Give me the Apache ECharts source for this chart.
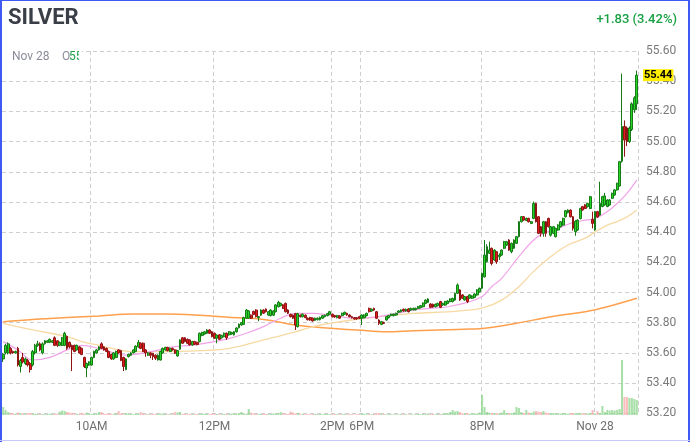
<!DOCTYPE html>
<html>
<head>
<meta charset="utf-8">
<script src="https://cdn.jsdelivr.net/npm/echarts@6/dist/echarts.min.js"></script>
<style>
html,body{margin:0;padding:0;background:#fff;}
#chart{width:690px;height:442px;}
</style>
</head>
<body>
<div id="chart"></div>
<script>
// [open, close, low, high]
const candles = [
[53.56,53.59,53.54,53.60],[53.60,53.65,53.59,53.66],[53.60,53.66,53.59,53.67],[53.63,53.60,53.59,53.64],[53.61,53.60,53.595,53.615],
[53.60,53.61,53.595,53.615],[53.63,53.52,53.51,53.64],[53.51,53.55,53.47,53.56],[53.57,53.54,53.53,53.60],[53.53,53.56,53.52,53.57],
[53.55,53.52,53.51,53.56],[53.53,53.49,53.47,53.54],[53.52,53.61,53.51,53.62],[53.60,53.65,53.59,53.66],[53.65,53.66,53.64,53.68],
[53.66,53.62,53.61,53.67],[53.60,53.66,53.59,53.67],[53.66,53.68,53.655,53.685],[53.67,53.68,53.665,53.685],[53.67,53.69,53.665,53.695],
[53.67,53.68,53.665,53.685],[53.70,53.65,53.645,53.71],[53.68,53.65,53.64,53.685],[53.65,53.67,53.645,53.675],[53.65,53.70,53.645,53.705],
[53.65,53.73,53.645,53.74],[53.71,53.63,53.62,53.715],[53.67,53.64,53.63,53.675],[53.65,53.62,53.48,53.655],[53.65,53.61,53.605,53.655],
[53.62,53.65,53.615,53.655],[53.64,53.60,53.595,53.645],[53.63,53.59,53.585,53.635],[53.57,53.51,53.50,53.575],[53.50,53.53,53.44,53.535],
[53.52,53.54,53.515,53.545],[53.52,53.57,53.515,53.575],[53.57,53.61,53.565,53.615],[53.60,53.62,53.595,53.625],[53.62,53.64,53.615,53.645],
[53.66,53.63,53.625,53.67],[53.64,53.62,53.615,53.645],[53.63,53.61,53.605,53.635],[53.61,53.57,53.565,53.615],[53.59,53.56,53.555,53.595],
[53.56,53.60,53.555,53.605],[53.57,53.61,53.565,53.615],
[53.620,53.600,53.595,53.625],[53.615,53.550,53.545,53.620],[53.570,53.510,53.480,53.575],[53.490,53.560,53.485,53.565],[53.575,53.590,53.570,53.595],
[53.585,53.600,53.580,53.605],[53.600,53.620,53.595,53.625],[53.610,53.645,53.605,53.650],[53.640,53.670,53.635,53.686],[53.664,53.630,53.625,53.670],
[53.664,53.610,53.605,53.670],[53.620,53.600,53.575,53.625],[53.585,53.600,53.580,53.605],[53.600,53.585,53.565,53.605],[53.598,53.575,53.553,53.600],
[53.585,53.565,53.553,53.590],[53.553,53.585,53.550,53.590],[53.553,53.610,53.550,53.615],[53.600,53.630,53.595,53.635],[53.620,53.637,53.615,53.640],
[53.637,53.615,53.610,53.640],[53.610,53.630,53.605,53.635],[53.630,53.620,53.615,53.635],[53.620,53.598,53.593,53.625],[53.580,53.615,53.575,53.620],
[53.625,53.686,53.620,53.690],[53.700,53.664,53.660,53.705],[53.700,53.675,53.670,53.705],[53.690,53.664,53.660,53.695],[53.686,53.653,53.648,53.690],
[53.653,53.675,53.648,53.680],[53.675,53.657,53.652,53.680],[53.670,53.655,53.650,53.675],[53.675,53.730,53.670,53.735],[53.716,53.735,53.710,53.740],
[53.725,53.740,53.720,53.745],[53.730,53.752,53.725,53.757],[53.752,53.730,53.725,53.757],[53.740,53.708,53.703,53.745],[53.730,53.697,53.692,53.735],
[53.697,53.718,53.664,53.723],[53.720,53.690,53.685,53.725],[53.700,53.716,53.695,53.720],[53.708,53.730,53.703,53.735],
[53.730,53.700,53.686,53.735],[53.720,53.740,53.715,53.745],[53.725,53.735,53.720,53.740],[53.720,53.740,53.715,53.745],[53.740,53.765,53.735,53.770],
[53.767,53.790,53.762,53.795],[53.785,53.800,53.780,53.805],[53.790,53.834,53.785,53.840],[53.830,53.884,53.825,53.890],[53.830,53.878,53.825,53.883],
[53.850,53.830,53.825,53.855],[53.875,53.855,53.850,53.880],[53.884,53.840,53.835,53.889],[53.834,53.840,53.810,53.845],[53.850,53.884,53.845,53.889],
[53.884,53.863,53.858,53.889],[53.890,53.873,53.868,53.895],[53.851,53.873,53.846,53.878],[53.847,53.884,53.842,53.889],[53.850,53.878,53.845,53.883],
[53.873,53.918,53.868,53.923],[53.906,53.935,53.901,53.945],[53.913,53.928,53.908,53.933],[53.918,53.895,53.890,53.923],[53.928,53.873,53.868,53.933],
[53.884,53.863,53.858,53.889],[53.855,53.840,53.835,53.860],[53.850,53.830,53.825,53.855],[53.860,53.785,53.752,53.865],[53.774,53.860,53.769,53.865],
[53.850,53.840,53.835,53.855],[53.840,53.856,53.835,53.861],[53.850,53.834,53.829,53.855],[53.830,53.820,53.815,53.835],[53.834,53.818,53.813,53.839],
[53.830,53.812,53.807,53.835],[53.816,53.830,53.811,53.835],[53.820,53.830,53.815,53.835],[53.820,53.836,53.815,53.841],[53.830,53.847,53.825,53.852],
[53.840,53.850,53.835,53.855],[53.847,53.860,53.842,53.865],[53.856,53.873,53.851,53.878],[53.856,53.840,53.835,53.861],[53.847,53.838,53.833,53.852],
[53.834,53.847,53.829,53.852],[53.845,53.830,53.825,53.850],
[53.847,53.862,53.842,53.867],[53.856,53.869,53.851,53.874],[53.862,53.851,53.846,53.867],[53.851,53.840,53.835,53.856],[53.840,53.833,53.828,53.845],
[53.833,53.825,53.820,53.838],[53.833,53.825,53.820,53.838],[53.840,53.829,53.824,53.845],[53.829,53.851,53.785,53.856],[53.833,53.851,53.828,53.856],
[53.847,53.862,53.842,53.867],[53.895,53.873,53.868,53.900],[53.878,53.889,53.873,53.894],[53.895,53.884,53.879,53.900],[53.873,53.829,53.824,53.878],
[53.818,53.796,53.785,53.823],[53.789,53.807,53.784,53.812],[53.802,53.796,53.791,53.807],[53.818,53.840,53.813,53.845],[53.833,53.847,53.828,53.852],
[53.847,53.856,53.842,53.861],[53.847,53.856,53.842,53.861],[53.851,53.862,53.846,53.867],[53.869,53.878,53.864,53.883],[53.873,53.884,53.868,53.889],
[53.889,53.878,53.873,53.894],[53.878,53.889,53.873,53.894],[53.891,53.873,53.868,53.896],[53.884,53.895,53.879,53.900],[53.886,53.895,53.881,53.900],
[53.886,53.895,53.881,53.900],[53.895,53.906,53.890,53.911],[53.900,53.913,53.895,53.918],[53.906,53.930,53.901,53.935],[53.928,53.950,53.923,53.955],
[53.935,53.957,53.930,53.962],[53.924,53.902,53.897,53.929],[53.922,53.904,53.899,53.927],[53.906,53.922,53.901,53.927],[53.913,53.928,53.908,53.933],
[53.940,53.902,53.897,53.945],[53.917,53.928,53.912,53.933],[53.917,53.940,53.912,53.945],[53.928,53.944,53.923,53.949],[53.940,53.957,53.935,53.962],
[53.940,53.961,53.935,53.966],[53.950,53.995,53.945,54.000],
[53.995,54.050,53.990,54.060],[54.017,53.951,53.945,54.022],[53.984,53.962,53.957,53.989],[53.951,53.973,53.946,53.978],[53.973,53.940,53.930,53.978],
[53.962,53.984,53.957,53.989],[53.962,53.977,53.957,53.982],[53.968,53.990,53.963,53.995],[53.984,54.017,53.979,54.022],[54.005,54.028,54.000,54.033],
[54.028,54.127,54.023,54.132],[54.104,54.248,54.099,54.348],[54.204,54.304,54.199,54.320],[54.260,54.281,54.255,54.337],[54.293,54.193,54.180,54.298],
[54.215,54.281,54.210,54.286],[54.270,54.204,54.190,54.275],[54.237,54.248,54.215,54.260],[54.248,54.281,54.243,54.286],[54.293,54.337,54.288,54.342],
[54.314,54.337,54.309,54.342],[54.348,54.281,54.276,54.353],[54.270,54.326,54.260,54.331],[54.293,54.348,54.288,54.353],[54.326,54.370,54.321,54.375],
[54.370,54.469,54.365,54.474],[54.469,54.502,54.464,54.507],[54.502,54.480,54.475,54.507],[54.478,54.491,54.473,54.496],[54.491,54.469,54.464,54.496],
[54.458,54.469,54.453,54.474],[54.491,54.590,54.486,54.602],[54.590,54.469,54.464,54.595],[54.502,54.392,54.387,54.507],[54.436,54.392,54.370,54.441],
[54.392,54.469,54.370,54.474],[54.469,54.392,54.370,54.474],[54.491,54.436,54.431,54.496],[54.380,54.436,54.370,54.441],[54.392,54.436,54.387,54.441],
[54.370,54.425,54.365,54.430],[54.414,54.447,54.409,54.452],[54.436,54.469,54.431,54.474],[54.447,54.491,54.442,54.496],[54.502,54.542,54.497,54.547],
[54.529,54.546,54.524,54.551],[54.546,54.502,54.497,54.551],[54.502,54.425,54.410,54.507],
[54.403,54.470,54.376,54.480],[54.414,54.480,54.409,54.485],[54.490,54.557,54.485,54.562],[54.569,54.547,54.542,54.574],[54.580,54.557,54.552,54.585],
[54.569,54.590,54.564,54.595],[54.557,54.635,54.552,54.640],[54.485,54.458,54.425,54.536],[54.414,54.536,54.409,54.541],[54.536,54.500,54.495,54.541],
[54.513,54.590,54.508,54.734],[54.570,54.635,54.565,54.640],[54.580,54.640,54.575,54.660],[54.570,54.613,54.565,54.618],[54.580,54.613,54.575,54.618],
[54.624,54.657,54.619,54.662],[54.646,54.680,54.641,54.685],[54.680,54.723,54.675,54.728],[54.706,54.867,54.701,54.872],
[54.870,55.100,54.860,55.450],[55.100,55.010,54.900,55.140],[55.090,55.000,54.970,55.100],[55.000,55.090,54.990,55.100],[55.080,55.250,55.070,55.260],
[55.210,55.290,55.190,55.300],[55.250,55.440,55.210,55.470]
];

const volumes = [
80,50,30,20,15,12,25,20,15,12,18,20,15,12,10,12,10,8,10,12,
10,15,12,35,45,40,30,25,20,15,12,10,20,15,25,12,10,15,12,30,
30,12,10,15,12,10,15,40,15,12,20,12,10,8,12,15,30,10,12,8,
10,8,12,10,15,12,10,8,10,12,30,25,30,12,10,8,12,10,8,12,
10,15,12,10,8,12,15,10,12,8,10,12,10,15,12,10,20,30,15,12,
60,25,15,12,10,12,15,10,12,10,15,12,20,30,15,12,10,35,25,15,
20,12,10,8,10,8,10,12,8,10,8,10,12,8,15,10,8,10,8,12,
8,10,8,6,8,10,15,12,8,10,8,12,15,20,12,10,8,10,8,6,
8,6,8,10,8,6,8,6,8,10,8,10,12,15,10,12,8,15,10,12,
15,20,30,50,35,40,30,20,15,20,12,15,12,15,25,200,80,30,25,20,
15,20,15,25,50,20,15,20,25,80,70,30,20,50,25,20,35,40,35,30,
40,25,20,15,20,15,12,15,20,15,12,15,20,18,15,20,15,12,15,20,
50,15,40,20,90,30,50,45,50,45,50,60,550,180,180,170,170,160,150
];

// moving averages read at sample candles: [candleIndex, value]
const maFast = [[0,53.675],[6,53.62],[12,53.553],[19,53.57],[26,53.62],[32,53.65],[39,53.63],[50,53.586],[60,53.608],[69,53.64],[77,53.652],[86,53.675],[93,53.70],[99,53.73],[106,53.774],[113,53.83],[119,53.862],[126,53.862],[133,53.85],[144,53.83],[153,53.84],[160,53.862],[167,53.884],[174,53.895],[181,53.906],[189,53.935],[195,53.973],[199,54.04],[203,54.094],[210,54.238],[216,54.348],[220,54.392],[226,54.425],[231,54.458],[237,54.48],[241,54.49],[246,54.536],[250,54.59],[254,54.657],[258,54.745]];
const maMid = [[0,53.796],[12,53.752],[26,53.708],[32,53.675],[39,53.65],[53,53.608],[66,53.608],[80,53.615],[92,53.63],[106,53.686],[119,53.74],[126,53.774],[133,53.796],[144,53.823],[153,53.84],[167,53.862],[181,53.872],[187,53.88],[195,53.896],[203,53.95],[210,54.039],[216,54.14],[223,54.238],[230,54.315],[237,54.36],[241,54.40],[246,54.447],[250,54.47],[254,54.50],[258,54.546]];
const maSlow = [[0,53.807],[12,53.822],[26,53.835],[39,53.845],[53,53.858],[66,53.858],[80,53.85],[93,53.835],[106,53.822],[119,53.785],[133,53.763],[144,53.752],[156,53.74],[167,53.747],[181,53.754],[190,53.758],[196,53.763],[209,53.796],[223,53.84],[237,53.873],[246,53.906],[258,53.962]];

const tickIndex = [36, 86, 134, 146, 195, 241];
const tickText = ['10AM', '12PM', '2PM', '6PM', '8PM', 'Nov 28'];
const lastPrice = 55.44;
const changeText = '+1.83 (3.42%)';
const titleText = 'SILVER';

const categories = candles.map((c, i) => String(i));
const FONT = 'Roboto, Arial, sans-serif';

const chart = echarts.init(document.getElementById('chart'), null, {renderer: 'canvas'});
const isTick = (idx) => tickIndex.indexOf(idx) >= 0;

const option = {
  animation: false,
  backgroundColor: '#ffffff',
  grid: [
    {left: 2, right: 52, top: 51, bottom: 28.7},
    {left: 2, right: 52, bottom: 27, height: 60}
  ],
  xAxis: [
    {
      type: 'category', gridIndex: 0, data: categories, boundaryGap: true,
      axisLine: {show: false}, axisTick: {show: false}, axisLabel: {show: false},
      splitLine: {show: true, interval: (idx) => isTick(idx), lineStyle: {color: '#cfcfcf', type: [4, 3], width: 1}}
    },
    {
      type: 'category', gridIndex: 1, data: categories, boundaryGap: true,
      axisLine: {show: false}, axisTick: {show: false},
      axisLabel: {
        show: true, interval: (idx) => isTick(idx),
        formatter: (v, idx) => tickText[tickIndex.indexOf(idx)] || '',
        color: '#6f6f6f', fontSize: 12, fontFamily: FONT, margin: 6
      },
      splitLine: {show: false}
    }
  ],
  yAxis: [
    {
      type: 'value', gridIndex: 0, position: 'right', min: 53.2, max: 55.6, interval: 0.2,
      axisLine: {show: false}, axisTick: {show: false},
      axisLabel: {formatter: (v) => v.toFixed(2), color: '#7a7a7a', fontSize: 12, fontFamily: FONT, margin: 8},
      splitLine: {show: true, lineStyle: {color: '#cfcfcf', type: [4, 3], width: 1}}
    },
    {
      type: 'value', gridIndex: 1, min: 0, max: 600, show: false,
      splitLine: {show: false}
    }
  ],
  series: [
    {
      type: 'bar', xAxisIndex: 1, yAxisIndex: 1, barWidth: '85%', z: 1,
      data: volumes.map((v, i) => ({
        value: v,
        itemStyle: {color: candles[i][1] >= candles[i][0] ? 'rgba(140,212,140,0.75)' : 'rgba(245,170,170,0.75)'}
      }))
    },
    {
      type: 'line', data: maSlow, showSymbol: false, smooth: 0.4, z: 2,
      lineStyle: {color: '#ffa04d', width: 1.5}
    },
    {
      type: 'line', data: maMid, showSymbol: false, smooth: 0.4, z: 2,
      lineStyle: {color: '#f7d9a3', width: 1.3}
    },
    {
      type: 'line', data: maFast, showSymbol: false, smooth: 0.4, z: 2,
      lineStyle: {color: '#f2a3e8', width: 1.2}
    },
    {
      type: 'candlestick', data: candles, barWidth: 2.3, z: 3,
      itemStyle: {
        color: '#27d427', color0: '#e31b1b',
        borderColor: '#167a16', borderColor0: '#8f1515', borderWidth: 1
      },
      markLine: {
        silent: true, symbol: ['none', 'none'],
        data: [{yAxis: lastPrice}],
        lineStyle: {color: 'rgba(0,0,0,0)', width: 0},
        label: {
          show: true, position: 'end', distance: 5,
          formatter: () => lastPrice.toFixed(2),
          backgroundColor: '#ffee00', color: '#000', fontWeight: 'bold',
          fontSize: 11, fontFamily: FONT, padding: [1, 1, 0, 1]
        }
      }
    }
  ],
  graphic: [
    {type: 'text', left: 8, top: 7, z: 100, style: {text: titleText, fontSize: 22, fontWeight: 'bold', fontFamily: FONT, fill: '#3a3e47'}},
    {type: 'text', right: 13, top: 13, z: 100, style: {text: changeText, fontSize: 13, fontWeight: 500, fontFamily: FONT, fill: '#1aa145'}},
    {type: 'rect', z: 100, shape: {x: 2, y: 44, width: 78, height: 22}, style: {fill: '#ffffff'}},
    {type: 'text', z: 101, left: 12, top: 51, style: {text: 'Nov 28', fontSize: 12, fontFamily: FONT, fill: '#8a8c99'}},
    {type: 'text', z: 101, left: 62, top: 51, style: {text: 'O', fontSize: 12, fontFamily: FONT, fill: '#8a8c99'}},
    {type: 'text', z: 101, left: 69, top: 51, style: {text: '55', fontSize: 12, fontFamily: FONT, fill: '#1aa145'}},
    {type: 'rect', z: 102, shape: {x: 79, y: 44, width: 3, height: 22}, style: {fill: '#ffffff'}},
    {type: 'line', z: 110, shape: {x1: 1, y1: 0, x2: 1, y2: 442}, style: {stroke: '#3f5af2', lineWidth: 2}},
    {type: 'line', z: 110, shape: {x1: 0, y1: 0.5, x2: 690, y2: 0.5}, style: {stroke: '#3f5af2', lineWidth: 1}},
    {type: 'line', z: 110, shape: {x1: 689, y1: 0, x2: 689, y2: 442}, style: {stroke: '#3f5af2', lineWidth: 2}},
    {type: 'line', z: 110, shape: {x1: 0, y1: 440.5, x2: 690, y2: 440.5}, style: {stroke: '#c3c8f6', lineWidth: 1}}
  ]
};
chart.setOption(option);
</script>
</body>
</html>
